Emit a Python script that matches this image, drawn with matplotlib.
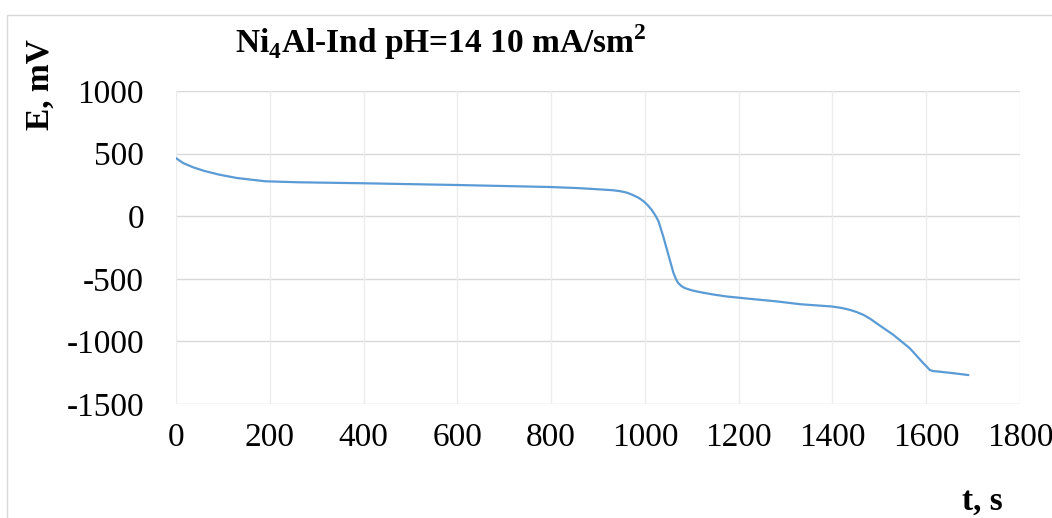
import matplotlib
matplotlib.use("Agg")
import matplotlib.pyplot as plt
from matplotlib.patches import Rectangle

# Galvanostatic potential transient, Ni4Al-Ind electrode
time_s = [0, 15, 37, 60, 92, 130, 190, 260, 330, 401, 500, 602, 700, 799, 860, 904,
          930, 947, 962, 975, 987, 997, 1006, 1014, 1022, 1029, 1039, 1050, 1061,
          1066, 1071, 1078, 1085, 1100, 1117, 1145, 1174, 1224, 1280, 1331, 1398,
          1420, 1437, 1452, 1466, 1480, 1494, 1530, 1565, 1594, 1608, 1615, 1629,
          1660, 1690]
potential_mV = [464, 425, 390, 362, 332, 305, 279, 271, 267, 263, 256, 249, 241, 233,
                224, 214, 208, 200, 188, 168, 146, 120, 88, 53, 8, -40, -160, -307,
                -454, -500, -534, -558, -574, -592, -606, -625, -641, -660, -680,
                -703, -721, -733, -748, -766, -788, -818, -855, -948, -1055, -1175,
                -1229, -1237, -1242, -1255, -1269]

x_ticks = [0, 200, 400, 600, 800, 1000, 1200, 1400, 1600, 1800]
y_ticks = [-1500, -1000, -500, 0, 500, 1000]

W, H = 1052, 518
fig = plt.figure(figsize=(W / 100, H / 100), dpi=100)
fig.patch.set_facecolor("white")

serif = "Liberation Serif"
plt.rcParams["mathtext.fontset"] = "custom"
plt.rcParams["mathtext.rm"] = serif
plt.rcParams["mathtext.bf"] = serif + ":bold"

# chart frame
fig.add_artist(Rectangle((7 / W, -0.1), 1.2, (H - 15) / H + 0.1,
                         transform=fig.transFigure, fill=False,
                         edgecolor="#d9d9d9", linewidth=1.0))

left, right, top, bottom = 176, 1020, 91, 404
ax = fig.add_axes([left / W, (H - bottom) / H, (right - left) / W, (bottom - top) / H])

ax.plot(time_s, potential_mV, color="#5B9BD5", linewidth=1.6,
        solid_joinstyle="round", solid_capstyle="round")

ax.set_xlim(0, 1800)
ax.set_ylim(-1500, 1000)
ax.set_xticks(x_ticks)
ax.set_yticks(y_ticks)
ax.set_xticklabels([str(v) for v in x_ticks])
ax.set_yticklabels([str(v) for v in y_ticks])

for s in ax.spines.values():
    s.set_visible(False)
ax.tick_params(axis="both", length=0, labelsize=24, colors="black")
ax.tick_params(axis="x", pad=13)
ax.tick_params(axis="y", pad=23)
for lbl in ax.get_xticklabels() + ax.get_yticklabels():
    lbl.set_fontfamily(serif)

ax.set_axisbelow(True)
for v in y_ticks:
    ax.axhline(v, color="#d9d9d9", linewidth=1.0, zorder=0)
for v in x_ticks:
    ax.axvline(v, color="#ececec", linewidth=1.0, zorder=0)

fig.text(441 / W, 1 - 53 / H, r"Ni$_{\mathbf{4}}$Al-Ind pH=14 10 mA/sm$^{\mathbf{2}}$",
         ha="center", va="baseline", fontsize=24, fontweight="bold", family=serif)
fig.text(40 / W, 1 - 85 / H, "E, mV", rotation=90, ha="center", va="center",
         fontsize=24, fontweight="bold", family=serif)
fig.text(982 / W, 1 - 510 / H, "t, s", ha="center", va="baseline",
         fontsize=24, fontweight="bold", family=serif)

fig.savefig("out.png", dpi=100, facecolor="white")
